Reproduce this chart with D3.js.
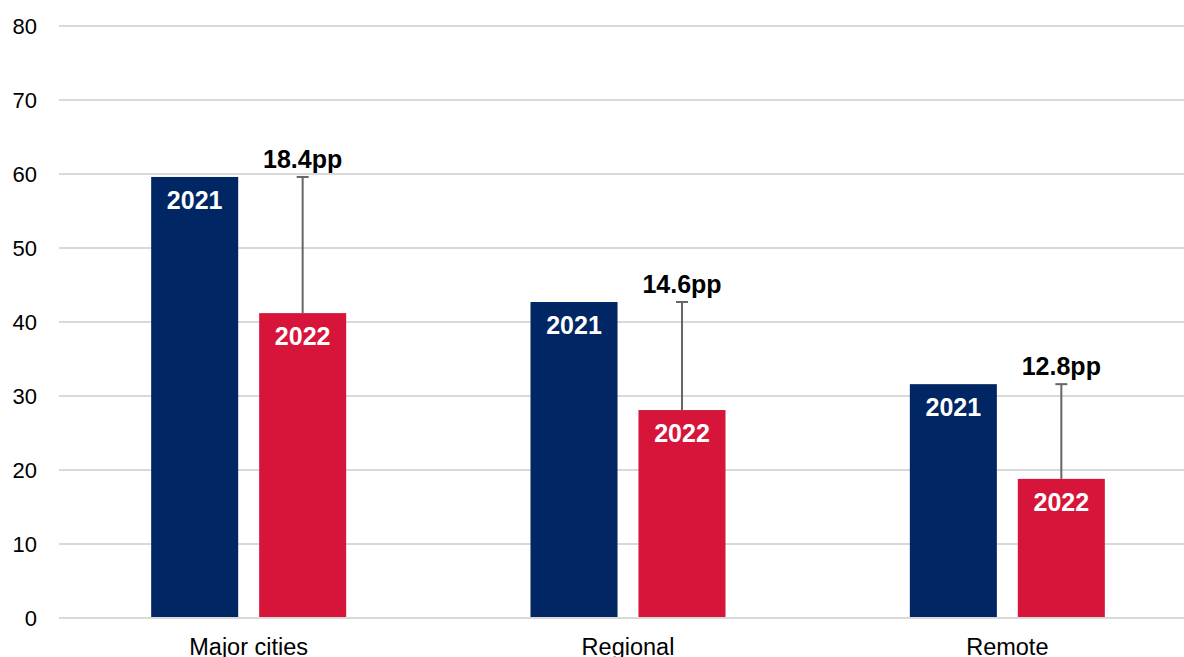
<!DOCTYPE html>
<html>
<head>
<meta charset="utf-8">
<script src="https://cdn.jsdelivr.net/npm/d3@7"></script>
<style>
  body { margin: 0; background: #fff; }
  text { font-family: "Liberation Sans", Arial, sans-serif; }
</style>
</head>
<body>
<div id="chart"></div>
<script>
// Data
const categories = ["Major cities", "Regional", "Remote"];
const years = ["2021", "2022"];
const values2021 = [59.6, 42.7, 31.6];
const values2022 = [41.2, 28.1, 18.8];
const gapLabels = ["18.4pp", "14.6pp", "12.8pp"];
const yTicks = [0, 10, 20, 30, 40, 50, 60, 70, 80];

const width = 1184;
const height = 657;
const margin = { top: 26, right: -13, bottom: 39, left: 59 };

const color = d3.scaleOrdinal()
  .domain(years)
  .range(["#002664", "#d7153a"]);

const svg = d3.select("#chart")
  .append("svg")
  .attr("width", width)
  .attr("height", height);

// Scales
const y = d3.scaleLinear()
  .domain([0, 80])
  .range([height - margin.bottom, margin.top]);

const x0 = d3.scaleBand()
  .domain(categories)
  .range([margin.left, width - margin.right]);

const groupWidth = 195;
const x1 = d3.scaleBand()
  .domain(years)
  .range([0, groupWidth])
  .paddingInner(0.194);
const offset = (x0.bandwidth() - groupWidth) / 2;

// Gridlines
svg.append("g")
  .selectAll("line")
  .data(yTicks)
  .enter()
  .append("line")
  .attr("x1", margin.left)
  .attr("x2", width)
  .attr("y1", (d) => y(d))
  .attr("y2", (d) => y(d))
  .attr("stroke", "#d9d9d9")
  .attr("stroke-width", 2);

// Y axis labels
svg.append("g")
  .selectAll("text")
  .data(yTicks)
  .enter()
  .append("text")
  .attr("x", 37)
  .attr("y", (d) => y(d))
  .attr("dy", "0.36em")
  .attr("text-anchor", "end")
  .attr("font-size", "22px")
  .attr("fill", "#000")
  .text((d) => d);

// Build rows for bars
const rows = categories.map((c, i) => ({
  category: c,
  bars: [
    { year: "2021", value: values2021[i] },
    { year: "2022", value: values2022[i] }
  ],
  gap: gapLabels[i]
}));

const groups = svg.selectAll(".group")
  .data(rows)
  .enter()
  .append("g")
  .attr("class", "group")
  .attr("transform", (d) => `translate(${x0(d.category) + offset},0)`);

groups.selectAll("rect")
  .data((d) => d.bars)
  .enter()
  .append("rect")
  .attr("x", (d) => x1(d.year))
  .attr("y", (d) => y(d.value))
  .attr("width", x1.bandwidth())
  .attr("height", (d) => y(0) - y(d.value))
  .attr("fill", (d) => color(d.year));

// year labels inside bars
groups.selectAll(".yearLabel")
  .data((d) => d.bars)
  .enter()
  .append("text")
  .attr("class", "yearLabel")
  .attr("x", (d) => x1(d.year) + x1.bandwidth() / 2)
  .attr("y", (d) => y(d.value) + 32)
  .attr("text-anchor", "middle")
  .attr("font-size", "25px")
  .attr("font-weight", "bold")
  .attr("fill", "#fff")
  .text((d) => d.year);

// zero line on top of bars
svg.append("line")
  .attr("x1", margin.left)
  .attr("x2", width)
  .attr("y1", y(0))
  .attr("y2", y(0))
  .attr("stroke", "#d9d9d9")
  .attr("stroke-width", 2);

// difference whiskers
const cx = x1("2022") + x1.bandwidth() / 2;
groups.append("line")
  .attr("x1", cx)
  .attr("x2", cx)
  .attr("y1", (d) => y(d.bars[0].value))
  .attr("y2", (d) => y(d.bars[1].value))
  .attr("stroke", "#666")
  .attr("stroke-width", 2);

groups.append("line")
  .attr("x1", cx - 6)
  .attr("x2", cx + 6)
  .attr("y1", (d) => y(d.bars[0].value))
  .attr("y2", (d) => y(d.bars[0].value))
  .attr("stroke", "#666")
  .attr("stroke-width", 2);

// gap labels with white backing
groups.append("rect")
  .attr("x", cx - 50)
  .attr("y", (d) => y(d.bars[0].value) - 34)
  .attr("width", 100)
  .attr("height", 30)
  .attr("fill", "#fff");

groups.append("text")
  .attr("x", cx)
  .attr("y", (d) => y(d.bars[0].value) - 9)
  .attr("text-anchor", "middle")
  .attr("font-size", "25px")
  .attr("font-weight", "bold")
  .attr("fill", "#000")
  .text((d) => d.gap);

// category labels (cut at the bottom edge, as in the original)
svg.append("g")
  .selectAll("text")
  .data(categories)
  .enter()
  .append("text")
  .attr("x", (d) => x0(d) + x0.bandwidth() / 2)
  .attr("y", y(0) + 37)
  .attr("text-anchor", "middle")
  .attr("font-size", "23.5px")
  .attr("fill", "#000")
  .text((d) => d);
</script>
</body>
</html>
